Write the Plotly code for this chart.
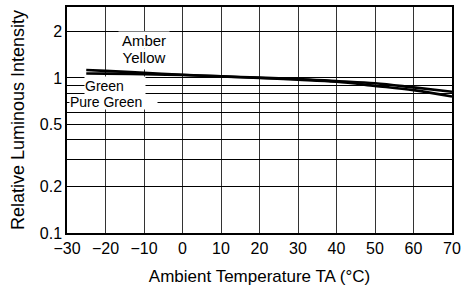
import numpy as np
import plotly.graph_objects as go

# ---- data ----
temps = [-25, -20, -10, 0, 10, 20, 30, 40, 50, 60, 70]
amber_yellow = [1.125, 1.112, 1.08, 1.05, 1.025, 1.0, 0.975, 0.945, 0.89, 0.835, 0.76]
green = [1.07, 1.067, 1.058, 1.045, 1.025, 1.005, 0.985, 0.955, 0.925, 0.87, 0.815]

y_tickvals = [0.1, 0.2, 0.3, 0.4, 0.5, 0.6, 0.7, 0.8, 0.9, 1, 2]
y_ticktext = ["0.1", "0.2", "", "", "0.5", "", "", "", "", "1", "2"]
x_tickvals = [-30, -20, -10, 0, 10, 20, 30, 40, 50, 60, 70]

FONT = "Liberation Sans, Arial, sans-serif"

fig = go.Figure()
fig.add_trace(go.Scatter(x=temps, y=amber_yellow, mode="lines", name="Amber / Yellow",
                         line=dict(color="black", width=2.6, shape="spline")))
fig.add_trace(go.Scatter(x=temps, y=green, mode="lines", name="Green / Pure Green",
                         line=dict(color="black", width=2.6, shape="spline")))

ann_common = dict(xref="x", yref="y", showarrow=False, bgcolor="white", borderpad=0)
f15 = dict(family=FONT, size=15, color="black")
f14 = dict(family=FONT, size=14, color="black")
fig.add_annotation(x=-10, y=0.242, text="Amber", width=50, height=16, font=f15,
                   xanchor="center", valign="middle", align="center", **ann_common)
fig.add_annotation(x=-10, y=0.124, text="Yellow", width=50, height=20, font=f15,
                   xanchor="center", valign="top", align="center", **ann_common)
fig.add_annotation(x=-25.6, y=-0.0516, text="Green", width=60, height=18, font=f14,
                   xanchor="left", valign="middle", align="left", **ann_common)
fig.add_annotation(x=-29.61, y=-0.158, text="Pure Green", width=87, height=14, font=f14,
                   xanchor="left", valign="middle", align="left", **ann_common)

fig.update_layout(
    width=466, height=287,
    margin=dict(l=67, r=14, t=7, b=54),
    paper_bgcolor="white", plot_bgcolor="white",
    showlegend=False,
    font=dict(family=FONT, size=16, color="black"),
)
fig.update_xaxes(
    range=[-30, 70], tickvals=x_tickvals, automargin=False,
    showgrid=True, gridcolor="#333", gridwidth=1.3,
    showline=True, linecolor="black", linewidth=1.5, mirror=True,
    ticks="", zeroline=False,
    tickfont=dict(family=FONT, size=16),
    title=dict(text="Ambient Temperature TA (°C)", font=dict(family=FONT, size=17), standoff=14),
)
fig.update_yaxes(
    type="log", range=[-1, 0.458], tickvals=y_tickvals, ticktext=y_ticktext, automargin=False,
    showgrid=True, gridcolor="black", gridwidth=1,
    showline=True, linecolor="black", linewidth=1.5, mirror=True,
    ticks="", zeroline=False,
    tickfont=dict(family=FONT, size=16),
    ticklabelstandoff=0,
    title=dict(text="Relative Luminous Intensity", font=dict(family=FONT, size=18), standoff=10),
)

fig.write_html("out.html", config={"displayModeBar": False},
               post_script="document.body.style.margin='0';")
